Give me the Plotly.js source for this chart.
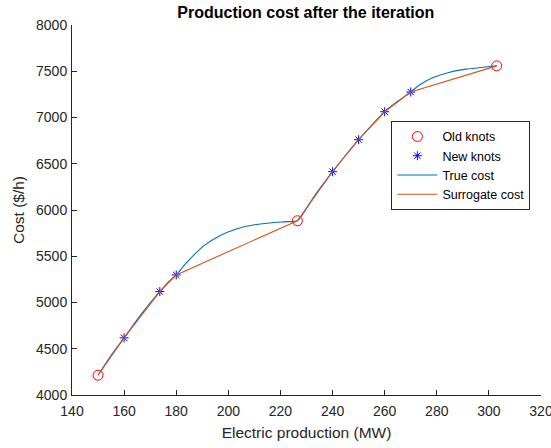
<!DOCTYPE html>
<html>
<head>
<meta charset="utf-8">
<script src="https://cdn.plot.ly/plotly-3.0.1.min.js"></script>
<style>
  html, body { margin: 0; padding: 0; background: #fff; }
  #chart { width: 551px; height: 448px; }
</style>
</head>
<body>
<div id="chart"></div>
<script>
// Knots of the piecewise-linear surrogate
const oldKnotsX = [150, 226.5, 303];
const oldKnotsY = [4214, 5884, 7558];
const newKnotsX = [160, 173.7, 180, 240, 250, 260, 270];
const newKnotsY = [4618, 5118, 5298, 6414, 6760, 7062, 7275];

// Sampled true production cost curve
const trueX = [150, 155, 160, 165, 170, 173.7, 177, 180, 183.9, 190.3, 196.7, 203.1, 209.5, 215.9, 222.3, 226.5,
               233, 240, 245, 250, 255, 260, 265, 270, 273.5, 278.6, 285, 291.4, 297.8, 303];
const trueY = [4214, 4430, 4618, 4815, 4995, 5118, 5222, 5298, 5428, 5607, 5722, 5795, 5838, 5860, 5874, 5884,
               6150, 6414, 6592, 6760, 6916, 7062, 7175, 7275, 7354, 7432, 7490, 7523, 7544, 7558];

// Surrogate cost: straight segments through all knots in order
const surX = [150, 160, 173.7, 180, 226.5, 240, 250, 260, 270, 303];
const surY = [4214, 4618, 5118, 5298, 5884, 6414, 6760, 7062, 7275, 7558];

const axisColor = '#262626';
const fam = 'Liberation Sans, Arial, Helvetica, sans-serif';
const tickFont = { family: fam, size: 14, color: axisColor };

const traces = [
  {
    x: oldKnotsX, y: oldKnotsY, name: 'Old knots', mode: 'markers', type: 'scatter',
    marker: { symbol: 'circle-open', size: 10, color: '#ff0000', line: { width: 1, color: '#ff0000' } }
  },
  {
    x: newKnotsX, y: newKnotsY, name: 'New knots', mode: 'markers', type: 'scatter',
    marker: { symbol: 'asterisk-open', size: 7.5, color: '#0000ff', line: { width: 1, color: '#0000ff' } }
  },
  {
    x: trueX, y: trueY, name: 'True cost', mode: 'lines', type: 'scatter',
    line: { color: '#0072BD', width: 1.1, shape: 'spline', smoothing: 0.6 }
  },
  {
    x: surX, y: surY, name: 'Surrogate cost', mode: 'lines', type: 'scatter',
    line: { color: '#D95319', width: 1.1 }
  }
];

const axisCommon = {
  showgrid: false, zeroline: false, showline: true, linecolor: axisColor, linewidth: 1,
  ticks: 'inside', ticklen: 5, tickwidth: 1, tickcolor: axisColor,
  tickfont: tickFont, mirror: false, automargin: false, ticklabeloverflow: 'allow'
};

const layout = {
  width: 551, height: 448,
  margin: { l: 72.3, r: 9.5, t: 25.2, b: 52.5 },
  paper_bgcolor: '#ffffff', plot_bgcolor: '#ffffff',
  font: tickFont,
  title: {
    text: '<b>Production cost after the iteration</b>',
    font: { family: fam, size: 16, color: '#000' },
    x: 0.555, xanchor: 'center', y: 0.973, yanchor: 'middle'
  },
  xaxis: Object.assign({}, axisCommon, {
    range: [140, 320], dtick: 20, tick0: 140, ticklabelstandoff: 3,
    title: { text: 'Electric production (MW)', font: { family: fam, size: 15.5, color: axisColor }, standoff: 9 }
  }),
  yaxis: Object.assign({}, axisCommon, {
    range: [4000, 8000], dtick: 500, tick0: 4000, ticklabelstandoff: 1,
    title: { text: 'Cost ($/h)', font: { family: fam, size: 15.5, color: axisColor }, standoff: 7 }
  }),
  showlegend: true,
  legend: {
    x: 0.681, y: 0.741, xanchor: 'left', yanchor: 'top',
    bordercolor: '#262626', borderwidth: 1, bgcolor: '#ffffff',
    font: { family: fam, size: 12.5, color: '#000' },
    itemwidth: 40, tracegroupgap: 0
  }
};

Plotly.newPlot('chart', traces, layout, { displayModeBar: false, staticPlot: true });
</script>
</body>
</html>
